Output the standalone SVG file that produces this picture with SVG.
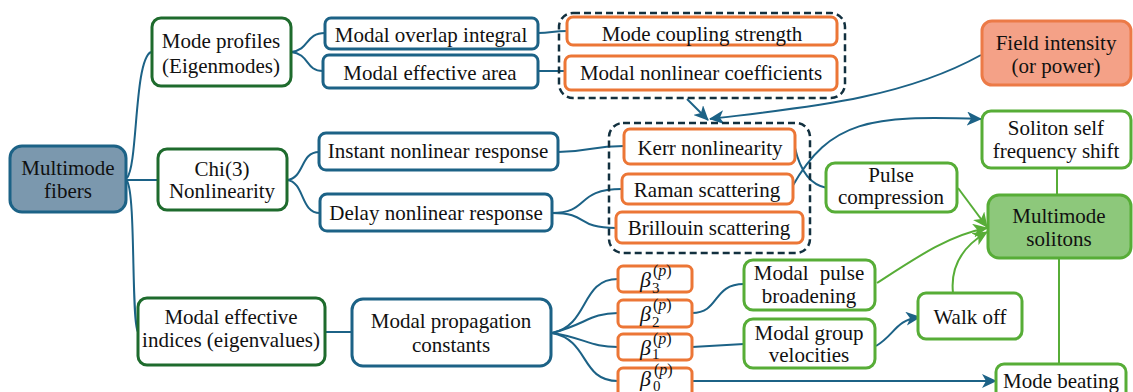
<svg xmlns="http://www.w3.org/2000/svg" width="1133" height="392" viewBox="0 0 1133 392">
<style>
text{font-family:"Liberation Serif","Times New Roman",Times,"Noto Serif","DejaVu Serif",FreeSerif,"Nimbus Roman",Tinos,serif;font-size:21px;fill:#111;text-anchor:middle}
.b{fill:#fff;stroke:#1c6286;stroke-width:3}
.g{fill:#fff;stroke:#1e6b2d;stroke-width:3}
.o{fill:#fff;stroke:#ec7636;stroke-width:3}
.lg{fill:#fff;stroke:#57ad37;stroke-width:3}
.c{fill:none;stroke:#1c6286;stroke-width:2}
.cg{fill:none;stroke:#57ad37;stroke-width:2}
.d{fill:none;stroke:#12303f;stroke-width:2.5;stroke-dasharray:7,4}
.beta{font-style:italic;font-size:22px;text-anchor:start}
.sub{font-size:15px;text-anchor:start}
.sup{font-size:16px;text-anchor:start}
</style>
<defs>
<marker id="ab" markerUnits="userSpaceOnUse" markerWidth="16" markerHeight="14" refX="14" refY="7" orient="auto">
<path d="M0,0 L15,7 L0,14 L4,7 z" fill="#1c6286"/>
</marker>
<marker id="ag" markerUnits="userSpaceOnUse" markerWidth="16" markerHeight="14" refX="14" refY="7" orient="auto">
<path d="M0,0 L15,7 L0,14 L4,7 z" fill="#57ad37"/>
</marker>
</defs>

<g id="connectors">
<path class="c" d="M127,178 C138,165 134,60 151,52"/>
<path class="c" d="M127,180 L158,180"/>
<path class="c" d="M127,181 C136,195 131,320 138,332"/>
<path class="c" d="M291,52 C310,50 305,33 325,33"/>
<path class="c" d="M291,52 C310,54 305,71 323,71"/>
<path class="c" d="M538,33 C552,33 552,31 567,31"/>
<path class="c" d="M538,71 L565,71"/>
<path class="c" d="M687,99 L708,120" marker-end="url(#ab)"/>
<path class="c" d="M981,55 C900,100 800,108 710,119" marker-end="url(#ab)"/>
<path class="c" d="M287,180 C305,178 300,152 319,152"/>
<path class="c" d="M287,180 C305,182 300,213 320,213"/>
<path class="c" d="M558,152 C590,152 590,146 624,146"/>
<path class="c" d="M552,213 C590,213 575,189 622,189"/>
<path class="c" d="M552,213 C590,213 575,228 616,228"/>
<path class="c" d="M795,148 C800,170 810,185 827,188"/>
<path class="c" d="M792,187 C830,120 870,115 981,119" marker-end="url(#ab)"/>
<path class="cg" d="M958,188 L987,227" marker-end="url(#ag)"/>
<path class="cg" d="M877,283 C920,255 950,235 987,228" marker-end="url(#ag)"/>
<path class="cg" d="M953,293 C950,265 965,245 987,232" marker-end="url(#ag)"/>
<path class="cg" d="M1057,168 L1057,195"/>
<path class="cg" d="M1059,258 L1059,364"/>
<path class="c" d="M325,332 L352,332"/>
<path class="c" d="M552,333 C590,325 580,279 618,279"/>
<path class="c" d="M552,333 C585,325 590,313 618,313"/>
<path class="c" d="M552,333 C585,338 590,347 618,347"/>
<path class="c" d="M552,333 C590,340 580,381 618,381"/>
<path class="c" d="M692,313 C720,313 712,284 744,284"/>
<path class="c" d="M692,347 L744,344"/>
<path class="c" d="M692,381 L996,381" marker-end="url(#ab)"/>
<path class="c" d="M876,346 C895,335 895,320 920,317" marker-end="url(#ab)"/>
</g>

<g id="group-coupling"><rect class="d" x="559" y="13" width="286" height="85" rx="14"/></g>
<g id="group-nonlinear"><rect class="d" x="609" y="123" width="201" height="130" rx="14"/></g>

<g id="multimode-fibers"><rect x="10" y="146" width="116" height="66" rx="12" fill="#7b98ae" stroke="#1c6286" stroke-width="3"/>
<text x="68" y="175">Multimode</text><text x="68" y="198">fibers</text></g>

<g id="mode-profiles"><rect class="g" x="152" y="18" width="139" height="68" rx="9"/>
<text x="221" y="48">Mode profiles</text><text x="221" y="73">(Eigenmodes)</text></g>

<g id="chi3"><rect class="g" x="158" y="149" width="129" height="61" rx="9"/>
<text x="222" y="176">Chi(3)</text><text x="222" y="198">Nonlinearity</text></g>

<g id="modal-effective-indices"><rect class="g" x="138" y="298" width="187" height="67" rx="9"/>
<text x="231" y="324">Modal effective</text><text x="231" y="347">indices (eigenvalues)</text></g>

<g id="modal-overlap"><rect class="b" x="325" y="18" width="213" height="31" rx="6"/>
<text x="431" y="42">Modal overlap integral</text></g>

<g id="modal-effective-area"><rect class="b" x="323" y="55" width="215" height="33" rx="6"/>
<text x="430" y="80">Modal effective area</text></g>

<g id="mode-coupling"><rect class="o" x="567" y="17" width="270" height="28" rx="6"/>
<text x="702" y="41">Mode coupling strength</text></g>

<g id="modal-nonlinear-coeff"><rect class="o" x="565" y="56" width="272" height="34" rx="6"/>
<text x="701" y="80">Modal nonlinear coefficients</text></g>

<g id="field-intensity"><rect x="982" y="21" width="149" height="64" rx="10" fill="#f4a187" stroke="#ec7a47" stroke-width="3"/>
<text x="1056" y="50">Field intensity</text><text x="1056" y="73">(or power)</text></g>

<g id="instant-response"><rect class="b" x="319" y="133" width="239" height="37" rx="7"/>
<text x="438" y="158">Instant nonlinear response</text></g>

<g id="delay-response"><rect class="b" x="320" y="194" width="232" height="37" rx="7"/>
<text x="436" y="220">Delay nonlinear response</text></g>

<g id="kerr"><rect class="o" x="624" y="129" width="171" height="35" rx="6"/>
<text x="710" y="155">Kerr nonlinearity</text></g>

<g id="raman"><rect class="o" x="622" y="174" width="171" height="30" rx="6"/>
<text x="707" y="197">Raman scattering</text></g>

<g id="brillouin"><rect class="o" x="616" y="212" width="187" height="31" rx="6"/>
<text x="709" y="235">Brillouin scattering</text></g>

<g id="soliton-shift"><rect class="lg" x="982" y="111" width="149" height="57" rx="9"/>
<text x="1056" y="135">Soliton self</text><text x="1056" y="158">frequency shift</text></g>

<g id="pulse-compression"><rect class="lg" x="826" y="163" width="131" height="49" rx="9"/>
<text x="891" y="182">Pulse</text><text x="891" y="204">compression</text></g>

<g id="multimode-solitons"><rect x="988" y="195" width="143" height="63" rx="11" fill="#8dc87b" stroke="#57ad37" stroke-width="3"/>
<text x="1059" y="223">Multimode</text><text x="1059" y="246">solitons</text></g>

<g id="walk-off"><rect class="lg" x="918" y="293" width="104" height="46" rx="8"/>
<text x="970" y="324">Walk off</text></g>

<g id="mode-beating"><rect class="lg" x="996" y="364" width="130" height="40" rx="8"/>
<text x="1061" y="388">Mode beating</text></g>

<g id="modal-pulse-broadening"><rect class="lg" x="744" y="260" width="131" height="50" rx="9"/>
<text x="809" y="280" word-spacing="6">Modal pulse</text><text x="809" y="303">broadening</text></g>

<g id="modal-group-velocities"><rect class="lg" x="744" y="319" width="131" height="49" rx="9"/>
<text x="809" y="340">Modal group</text><text x="809" y="362">velocities</text></g>

<g id="modal-propagation"><rect class="b" x="352" y="299" width="199" height="67" rx="11"/>
<text x="451" y="328">Modal propagation</text><text x="451" y="352">constants</text></g>

<g id="beta3"><rect class="o" x="618" y="266" width="74" height="26" rx="5"/>
<text class="beta" x="640" y="287">β</text><text class="sub" x="652" y="293">3</text><text class="sup" x="653" y="276">(<tspan font-style="italic">p</tspan>)</text></g>

<g id="beta2"><rect class="o" x="618" y="300" width="74" height="27" rx="5"/>
<text class="beta" x="640" y="321">β</text><text class="sub" x="652" y="327">2</text><text class="sup" x="653" y="310">(<tspan font-style="italic">p</tspan>)</text></g>

<g id="beta1"><rect class="o" x="618" y="334" width="74" height="26" rx="5"/>
<text class="beta" x="640" y="355">β</text><text class="sub" x="652" y="359" font-size="13">1</text><text class="sup" x="653" y="344">(<tspan font-style="italic">p</tspan>)</text></g>

<g id="beta0"><rect class="o" x="618" y="368" width="74" height="30" rx="5"/>
<text class="beta" x="640" y="386">β</text><text class="sub" x="653" y="391" font-size="12">0</text><text class="sup" x="654" y="375" font-size="13">(<tspan font-style="italic">p</tspan>)</text></g>
</svg>
